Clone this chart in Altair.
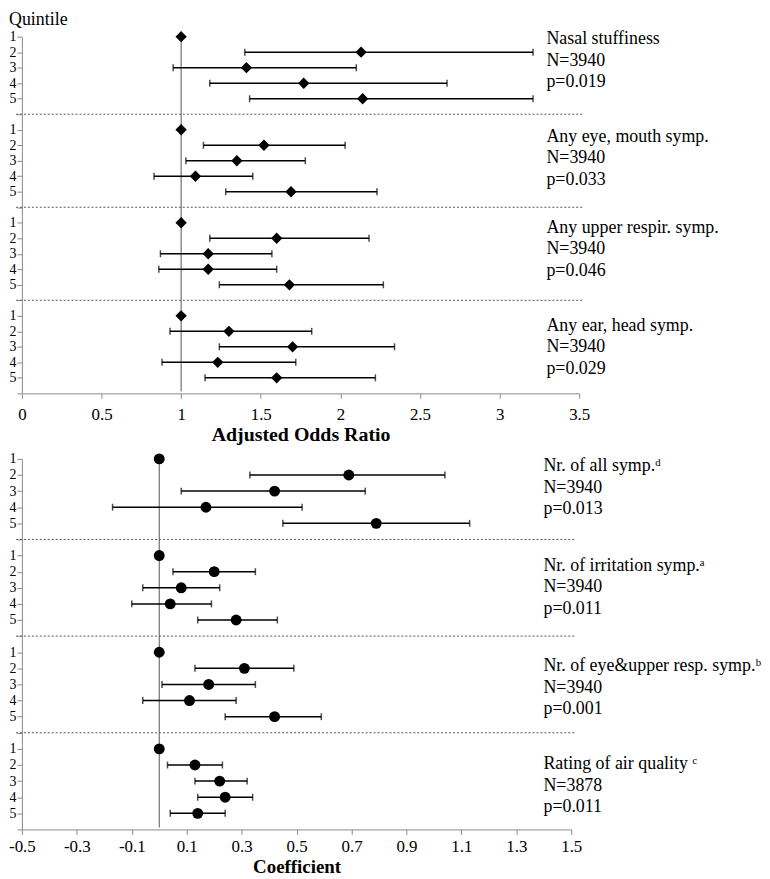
import altair as alt
import pandas as pd

# ---------------- data ----------------
quintiles = [1, 2, 3, 4, 5]

top_outcomes = ["Nasal stuffiness", "Any eye, mouth symp.", "Any upper respir. symp.", "Any ear, head symp."]
top_n = ["N=3940", "N=3940", "N=3940", "N=3940"]
top_p = ["p=0.019", "p=0.033", "p=0.046", "p=0.029"]
top_or = [
    [1.0, 2.13, 1.41, 1.77, 2.14],
    [1.0, 1.52, 1.35, 1.09, 1.69],
    [1.0, 1.60, 1.17, 1.17, 1.68],
    [1.0, 1.30, 1.70, 1.23, 1.60],
]
top_lo = [
    [None, 1.40, 0.95, 1.18, 1.43],
    [None, 1.14, 1.03, 0.83, 1.28],
    [None, 1.18, 0.87, 0.86, 1.24],
    [None, 0.93, 1.24, 0.88, 1.15],
]
top_hi = [
    [None, 3.21, 2.10, 2.67, 3.21],
    [None, 2.03, 1.78, 1.45, 2.23],
    [None, 2.18, 1.57, 1.60, 2.27],
    [None, 1.82, 2.34, 1.72, 2.22],
]
top_ticks = [0, 0.5, 1, 1.5, 2, 2.5, 3, 3.5]
top_ref = [1.0]

bot_outcomes = ["Nr. of all symp.\u1d48", "Nr. of irritation symp.\u1d43",
                "Nr. of eye&upper resp. symp.\u1d47", "Rating of air quality \u1d9c"]
bot_n = ["N=3940", "N=3940", "N=3940", "N=3878"]
bot_p = ["p=0.013", "p=0.011", "p=0.001", "p=0.011"]
bot_coef = [
    [0.0, 0.69, 0.42, 0.17, 0.79],
    [0.0, 0.20, 0.08, 0.04, 0.28],
    [0.0, 0.31, 0.18, 0.11, 0.42],
    [0.0, 0.13, 0.22, 0.24, 0.14],
]
bot_lo = [
    [None, 0.33, 0.08, -0.17, 0.45],
    [None, 0.05, -0.06, -0.10, 0.14],
    [None, 0.13, 0.01, -0.06, 0.24],
    [None, 0.03, 0.13, 0.14, 0.04],
]
bot_hi = [
    [None, 1.04, 0.75, 0.52, 1.13],
    [None, 0.35, 0.22, 0.19, 0.43],
    [None, 0.49, 0.35, 0.28, 0.59],
    [None, 0.23, 0.32, 0.34, 0.24],
]
bot_ticks = [-0.5, -0.3, -0.1, 0.1, 0.3, 0.5, 0.7, 0.9, 1.1, 1.3, 1.5]
bot_ref = [0.0]

# label anchor (in row-slot units) for each outcome's text block
top_label_slot = [1.15, 7.45, 13.33, 19.63]
bot_label_slot = [1.46, 7.62, 13.88, 19.95]
separator_slots = [6, 12, 18]

FONT = "Liberation Serif, Times New Roman, DejaVu Serif, serif"
AXIS_GREY = "#8a8a8a"


def build_df(est, lo, hi):
    rows = []
    for g in range(4):
        for i, q in enumerate(quintiles):
            rows.append({"slot": 6 * g + q, "est": est[g][i], "lo": lo[g][i], "hi": hi[g][i]})
    return pd.DataFrame(rows)


def panel(est, lo, hi, outcomes, ns, ps, label_slots, ticks, domain, ref, title,
          width, height, shape, size, text_x, with_quintile, label_pad, title_pad, title_size):
    df = build_df(est, lo, hi)
    ci = df.dropna(subset=["lo"])
    labels = pd.DataFrame({
        "slot": label_slots,
        "label": [f"{o}\n{n}\n{p}" for o, n, p in zip(outcomes, ns, ps)],
    })
    seps = pd.DataFrame({"slot": separator_slots})
    refdf = pd.DataFrame({"est": ref})

    yscale = alt.Scale(domain=[1, 24], reverse=True, nice=False, zero=False)
    xscale = alt.Scale(domain=domain, nice=False, zero=False)

    Y = alt.Y("slot:Q", scale=yscale,
              axis=alt.Axis(values=list(range(1, 25)),
                            labelExpr="datum.value % 6 == 0 ? '' : '' + (datum.value % 6)",
                            title=None, grid=False, tickSize=5, labelPadding=1,
                            labelFontSize=14, labelFont=FONT, labelColor="black",
                            domainColor=AXIS_GREY, tickColor=AXIS_GREY,
                            labelOverlap=False, labelFlush=False))

    def X(field):
        return alt.X(f"{field}:Q", scale=xscale,
                     axis=alt.Axis(values=ticks, labelExpr="'' + datum.value",
                                   title=title, titleFont=FONT, titleFontSize=title_size,
                                   titleFontWeight="bold", titleColor="black", titlePadding=title_pad,
                                   grid=False, tickSize=5, labelPadding=label_pad,
                                   labelFontSize=17, labelFont=FONT, labelColor="black",
                                   domainColor=AXIS_GREY, tickColor=AXIS_GREY,
                                   labelFlush=False, labelOverlap=False))

    sep = alt.Chart(seps).mark_rule(color="#555555", strokeWidth=1, strokeDash=[2, 2]).encode(
        y=Y, x=alt.value(-6), x2=alt.value(width + 4))
    refline = alt.Chart(refdf).mark_rule(color="#555555", strokeWidth=1).encode(
        x=X("est"), y=alt.value(0), y2=alt.value(height - 2))
    bars = alt.Chart(ci).mark_rule(color="black", strokeWidth=1.5).encode(
        x=X("lo"), x2="hi:Q", y=Y)
    cap_lo = alt.Chart(ci).mark_tick(orient="vertical", size=7, thickness=1.5, color="black").encode(
        x=X("lo"), y=Y)
    cap_hi = alt.Chart(ci).mark_tick(orient="vertical", size=7, thickness=1.5, color="black").encode(
        x=X("hi"), y=Y)
    pts = alt.Chart(df).mark_point(shape=shape, filled=True, size=size, color="black", opacity=1).encode(
        x=X("est"), y=Y)
    txt = alt.Chart(labels).mark_text(align="left", baseline="top", font=FONT, fontSize=18,
                                      lineBreak="\n", lineHeight=21.7, dy=-9, color="black").encode(
        x=alt.value(text_x), y=Y, text="label:N")
    layers = [sep, refline, bars, cap_lo, cap_hi, pts, txt]
    if with_quintile:
        qdf = pd.DataFrame({"t": ["Quintile"]})
        qt = alt.Chart(qdf).mark_text(align="left", baseline="alphabetic", font=FONT,
                                      fontSize=18, color="black").encode(
            x=alt.value(-13), y=alt.value(-12), text="t:N")
        layers.append(qt)
    return alt.layer(*layers).properties(width=width, height=height)


top = panel(top_or, top_lo, top_hi, top_outcomes, top_n, top_p, top_label_slot,
            top_ticks, [0, 3.5], top_ref, "Adjusted Odds Ratio", 561, 359,
            "diamond", 130, 528, True, 8, 2, 20)
bottom = panel(bot_coef, bot_lo, bot_hi, bot_outcomes, bot_n, bot_p, bot_label_slot,
               bot_ticks, [-0.5, 1.5], bot_ref, "Coefficient", 553, 373,
               "circle", 120, 525, False, 4, 3, 19)

chart = alt.vconcat(top, bottom, spacing=8).properties(padding=0).configure(
    font=FONT, view=alt.ViewConfig(strokeWidth=0, stroke=None))

chart.save("out.html", embed_options={"renderer": "svg", "actions": False})
